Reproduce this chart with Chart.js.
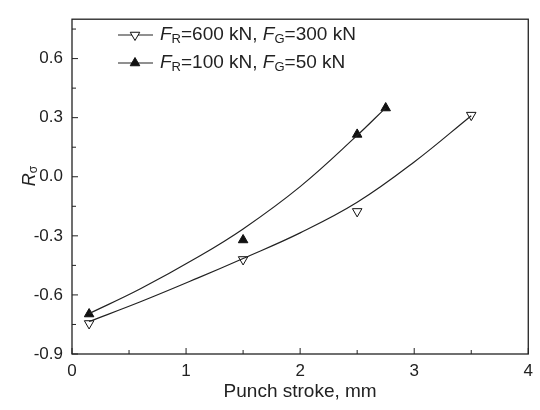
<!DOCTYPE html>
<html>
<head>
<meta charset="utf-8">
<script src="https://cdn.jsdelivr.net/npm/chart.js@4.4.1/dist/chart.umd.min.js"></script>
<style>
  html, body { margin: 0; padding: 0; background: #fff; }
</style>
</head>
<body>
<canvas id="chart" width="540" height="410"></canvas>
<script>
// measured points
const strokeOpen = [0.15, 1.5, 2.5, 3.5];
const rOpen = [-0.745, -0.42, -0.176, 0.313];
const strokeFilled = [0.15, 1.5, 2.5, 2.75];
const rFilled = [-0.697, -0.321, 0.215, 0.349];

// fitted curves
const fitOpenX = [0.15, 0.6, 1.1, 1.5, 2.0, 2.5, 3.0, 3.5];
const fitOpenY = [-0.735, -0.635, -0.515, -0.415, -0.285, -0.13, 0.075, 0.31];
const fitFilledX = [0.15, 0.6, 1.1, 1.5, 2.0, 2.5, 2.75];
const fitFilledY = [-0.695, -0.569, -0.409, -0.265, -0.05, 0.21, 0.35];

const xTicks = [0, 1, 2, 3, 4];
const xMinor = [0.5, 1.5, 2.5, 3.5];
const yTicks = [-0.9, -0.6, -0.3, 0.0, 0.3, 0.6];
const yMinor = [-0.75, -0.45, -0.15, 0.15, 0.45, 0.75];

const FONT = '"Liberation Sans", Arial, sans-serif';
const INK = '#222';

function pts(xs, ys) {
  return xs.map((x, i) => ({ x: x, y: ys[i] }));
}

// text with italic letters and subscripts, parts: [text, kind]
function richText(ctx, parts, x, y) {
  let cx = x;
  parts.forEach(p => {
    const [txt, kind] = p;
    let dy = 0;
    if (kind === 'i') ctx.font = 'italic 19px ' + FONT;
    else if (kind === 'sub') { ctx.font = '13px ' + FONT; dy = 4; }
    else ctx.font = '19px ' + FONT;
    ctx.fillText(txt, cx, y + dy);
    cx += ctx.measureText(txt).width;
  });
}

const framePlugin = {
  id: 'frame',
  afterDraw(chart) {
    const ctx = chart.ctx;
    const a = chart.chartArea;
    const xs = chart.scales.x, ys = chart.scales.y;
    ctx.save();
    ctx.strokeStyle = INK;
    ctx.lineWidth = 1.3;
    ctx.strokeRect(a.left, a.top, a.right - a.left, a.bottom - a.top);

    ctx.lineWidth = 1;
    ctx.beginPath();
    xTicks.forEach(v => { const p = xs.getPixelForValue(v); ctx.moveTo(p, a.bottom); ctx.lineTo(p, a.bottom - 6); });
    xMinor.forEach(v => { const p = xs.getPixelForValue(v); ctx.moveTo(p, a.bottom); ctx.lineTo(p, a.bottom - 4); });
    yTicks.forEach(v => { const p = ys.getPixelForValue(v); ctx.moveTo(a.left, p); ctx.lineTo(a.left + 6, p); });
    yMinor.forEach(v => { const p = ys.getPixelForValue(v); ctx.moveTo(a.left, p); ctx.lineTo(a.left + 4, p); });
    ctx.stroke();

    // axis titles
    ctx.fillStyle = INK;
    ctx.textBaseline = 'middle';
    ctx.textAlign = 'center';
    ctx.font = '19px ' + FONT;
    ctx.fillText('Punch stroke, mm', (a.left + a.right) / 2, 392);

    ctx.save();
    ctx.translate(30, 176);
    ctx.rotate(-Math.PI / 2);
    ctx.textAlign = 'left';
    ctx.font = 'italic 18px ' + FONT;
    const wR = ctx.measureText('R').width;
    ctx.font = '12px ' + FONT;
    const wS = ctx.measureText('σ').width;
    const sx = -(wR + wS) / 2;
    ctx.font = 'italic 18px ' + FONT;
    ctx.fillText('R', sx, 0);
    ctx.font = '12px ' + FONT;
    ctx.fillText('σ', sx + wR, 4);
    ctx.restore();

    // legend
    const rows = [
      { y: 35, rot: 180, fill: '#fff',
        parts: [['F', 'i'], ['R', 'sub'], ['=600 kN, ', 'n'], ['F', 'i'], ['G', 'sub'], ['=300 kN', 'n']] },
      { y: 63, rot: 0, fill: '#111',
        parts: [['F', 'i'], ['R', 'sub'], ['=100 kN, ', 'n'], ['F', 'i'], ['G', 'sub'], ['=50 kN', 'n']] }
    ];
    rows.forEach(r => {
      ctx.strokeStyle = INK;
      ctx.lineWidth = 1.2;
      ctx.beginPath();
      ctx.moveTo(118, r.y);
      ctx.lineTo(153, r.y);
      ctx.stroke();
      ctx.fillStyle = r.fill;
      ctx.strokeStyle = '#111';
      ctx.lineWidth = 1;
      Chart.helpers.drawPoint(ctx, { pointStyle: 'triangle', radius: 5.5, rotation: r.rot, borderWidth: 1 }, 135, r.y);
      ctx.fillStyle = INK;
      ctx.textAlign = 'left';
      ctx.textBaseline = 'middle';
      richText(ctx, r.parts, 160, r.y);
    });
    ctx.restore();
  }
};

new Chart(document.getElementById('chart'), {
  type: 'scatter',
  data: {
    datasets: [
      {
        data: pts(fitOpenX, fitOpenY),
        showLine: true, pointRadius: 0, borderColor: INK, borderWidth: 1.2,
        tension: 0.4
      },
      {
        data: pts(fitFilledX, fitFilledY),
        showLine: true, pointRadius: 0, borderColor: INK, borderWidth: 1.2,
        tension: 0.4
      },
      {
        data: pts(strokeOpen, rOpen),
        showLine: false, pointStyle: 'triangle', rotation: 180, pointRadius: 5.5,
        backgroundColor: '#fff', borderColor: '#111', borderWidth: 1
      },
      {
        data: pts(strokeFilled, rFilled),
        showLine: false, pointStyle: 'triangle', rotation: 0, pointRadius: 5.5,
        backgroundColor: '#111', borderColor: '#111', borderWidth: 1
      }
    ]
  },
  options: {
    responsive: false,
    animation: false,
    layout: { padding: { top: 11, right: 5, left: 0, bottom: 0 } },
    plugins: { legend: { display: false }, tooltip: { enabled: false } },
    scales: {
      x: {
        type: 'linear', min: 0, max: 4,
        grid: { display: false, drawTicks: false },
        border: { display: false },
        afterBuildTicks: s => { s.ticks = xTicks.map(v => ({ value: v })); },
        afterFit: s => { s.height = 56; },
        ticks: { color: INK, font: { family: FONT, size: 17 }, padding: 7, callback: v => String(v) }
      },
      y: {
        type: 'linear', min: -0.9, max: 0.8,
        grid: { display: false, drawTicks: false },
        border: { display: false },
        afterBuildTicks: s => { s.ticks = yTicks.map(v => ({ value: v })); },
        afterFit: s => { s.width = 72; },
        ticks: { color: INK, font: { family: FONT, size: 17 }, padding: 9, callback: v => v.toFixed(1) }
      }
    }
  },
  plugins: [framePlugin]
});
</script>
</body>
</html>
